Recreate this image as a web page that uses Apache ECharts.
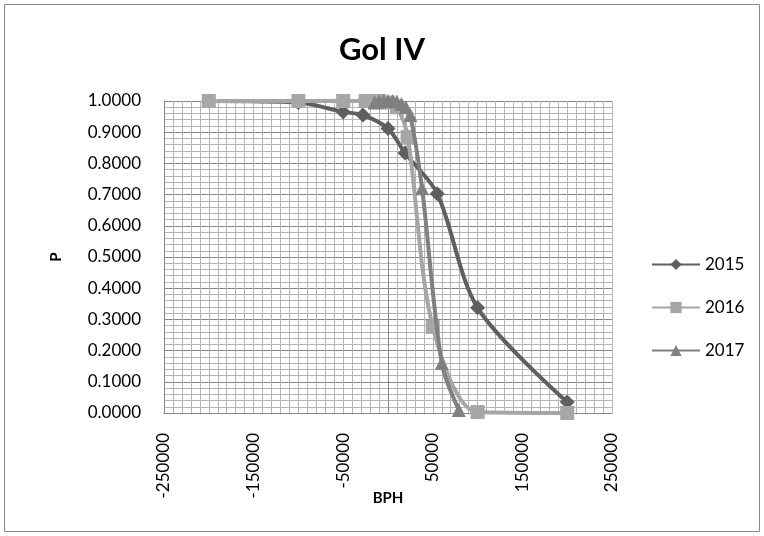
<!DOCTYPE html>
<html><head><meta charset="utf-8">
<script src="https://cdn.jsdelivr.net/npm/echarts@6/dist/echarts.min.js"></script>
<style>html,body{margin:0;padding:0;background:#fff}#c{width:764px;height:536px}</style>
</head><body><div id="c"></div>
<script>
const chartTitle = 'Gol IV';
const xName = 'BPH';
const yName = 'P';
const seriesNames = ['2015', '2016', '2017'];
const bph2015 = [-200000, -100000, -50000, -28000, 0, 19000, 55000, 100000, 200000];
const p2015   = [1.0, 0.995, 0.965, 0.955, 0.912, 0.833, 0.703, 0.337, 0.035];
const bph2016 = [-200000, -100000, -50000, -25000, -10000, 0, 10000, 22000, 50000, 100000, 200000];
const p2016   = [1.0, 1.0, 1.0, 1.0, 1.0, 0.995, 0.98, 0.885, 0.276, 0.003, 0.0];
const bph2017 = [-15000, -10000, -5000, 0, 5000, 10000, 15000, 20000, 25000, 38000, 60000, 79000];
const p2017   = [0.995, 0.998, 1.0, 1.0, 1.0, 0.998, 0.99, 0.98, 0.955, 0.72, 0.16, 0.01];

const zip = (xs, ys) => xs.map((x, i) => [x, ys[i]]);
const colors = ['#5f5f5f', '#a6a6a6', '#808080'];
const symbols = ['diamond', 'rect', 'triangle'];
const sizes = [15, 14, 14];
const datas = [zip(bph2015, p2015), zip(bph2016, p2016), zip(bph2017, p2017)];
const font = 'Lato, "Open Sans", sans-serif';

const series = seriesNames.map((n, i) => ({
  name: n, type: 'line', data: datas[i], smooth: 0.3,
  symbol: symbols[i], symbolSize: sizes[i], showAllSymbol: true,
  lineStyle: { color: colors[i], width: 4 },
  itemStyle: { color: colors[i] },
  z: 3 + i
}));
series[0].markLine = {
  silent: true, symbol: 'none', label: { show: false },
  lineStyle: { color: '#868686', width: 1, type: 'solid' },
  data: [{ xAxis: 0 }], z: 1
};

const chart = echarts.init(document.getElementById('c'), null, { renderer: 'canvas' });
chart.setOption({
  animation: false,
  backgroundColor: '#fff',
  title: { text: chartTitle, left: 'center', top: 29, textStyle: { fontFamily: font, fontSize: 31, fontWeight: 'bold', color: '#000' } },
  graphic: [{ type: 'rect', shape: { x: 4.5, y: 4.5, width: 755, height: 527 }, style: { fill: 'none', stroke: '#868686', lineWidth: 1 }, silent: true }],
  grid: { left: 164, right: 152, top: 101, bottom: 123, containLabel: false },
  legend: {
    orient: 'vertical', left: 646, top: 251, itemGap: 26, itemWidth: 48, itemHeight: 14,
    textStyle: { fontFamily: font, fontSize: 17, color: '#000' },
    data: seriesNames
  },
  xAxis: {
    type: 'value', min: -250000, max: 250000, interval: 100000,
    name: xName, nameLocation: 'middle', nameGap: 78, nameMoveOverlap: false,
    nameTextStyle: { fontFamily: font, fontSize: 15, fontWeight: 'bold', color: '#000' },
    axisLine: { onZero: false, lineStyle: { color: '#868686' } },
    axisTick: { show: false },
    axisLabel: { rotate: 90, fontFamily: font, fontSize: 17, color: '#000', margin: 20, formatter: v => String(v) },
    splitLine: { show: true, lineStyle: { color: '#b5b5b5', width: 1 } },
    minorTick: { show: false, splitNumber: 10 },
    minorSplitLine: { show: true, lineStyle: { color: '#b5b5b5', width: 1 } }
  },
  yAxis: {
    type: 'value', min: 0, max: 1, interval: 0.1,
    name: yName, nameLocation: 'middle', nameGap: 100, nameRotate: 90, nameMoveOverlap: false,
    nameTextStyle: { fontFamily: font, fontSize: 15, fontWeight: 'bold', color: '#000' },
    axisLine: { show: true, onZero: false, lineStyle: { color: '#868686' } },
    axisTick: { show: false },
    axisLabel: { fontFamily: font, fontSize: 17, color: '#000', margin: 23, formatter: v => v.toFixed(4) },
    splitLine: { show: true, lineStyle: { color: '#868686', width: 1 } },
    minorTick: { show: false, splitNumber: 5 },
    minorSplitLine: { show: true, lineStyle: { color: '#b5b5b5', width: 1 } }
  },
  series: series
});
</script></body></html>
